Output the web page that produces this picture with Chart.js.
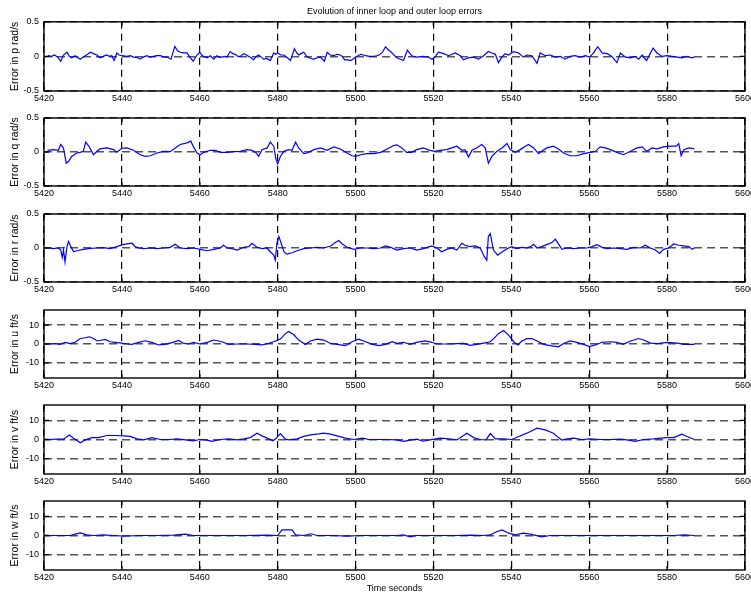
<!DOCTYPE html>
<html>
<head>
<meta charset="utf-8">
<title>Evolution of inner loop and outer loop errors</title>
<script src="https://cdn.jsdelivr.net/npm/chart.js@4.4.0/dist/chart.umd.min.js"></script>
<style>
html, body { margin: 0; padding: 0; background: #fff; }
#fig { position: relative; width: 751px; height: 597px; overflow: hidden; }
#fig canvas { position: absolute; left: 0; }
</style>
</head>
<body>
<div id="fig">
  <canvas id="chartP" width="751" height="109" style="top:0px"></canvas>
  <canvas id="chartQ" width="751" height="94" style="top:110px"></canvas>
  <canvas id="chartR" width="751" height="94" style="top:206px"></canvas>
  <canvas id="chartU" width="751" height="94" style="top:302px"></canvas>
  <canvas id="chartV" width="751" height="95" style="top:397px"></canvas>
  <canvas id="chartW" width="751" height="104" style="top:493px"></canvas>
</div>
<script>
// ==========================
// DATA
// ==========================

const timeTicks = [5420, 5440, 5460, 5480, 5500, 5520, 5540, 5560, 5580, 5600];
const rateTicks = [-0.5, 0, 0.5];
const velTicks = [-10, 0, 10];

// inner loop: body rates (rad/s)
const pTime = [
  5421, 5422, 5422.7, 5423.5, 5424.3, 5425, 5425.9, 5426.5, 5427.1, 5428,
  5429.3, 5430.3, 5431.2, 5431.9, 5432.7, 5433.6, 5434.4, 5435.2, 5436.1, 5436.8,
  5437.4, 5438, 5438.7, 5439.3, 5440, 5441.3, 5442.2, 5443, 5444, 5444.7,
  5445.5, 5446.4, 5447.2, 5448.1, 5449, 5449.9, 5450.8, 5451.6, 5452.6, 5453.6,
  5454.3, 5455, 5456, 5456.7, 5457.6, 5458.3, 5458.8, 5459.3, 5460, 5460.5,
  5461, 5461.9, 5462.7, 5463.6, 5464.4, 5465, 5465.7, 5466.4, 5467, 5467.8,
  5468.5, 5469.1, 5469.8, 5470.4, 5471.3, 5472, 5472.6, 5473.2, 5473.8, 5474.5,
  5475.1, 5475.8, 5476.4, 5477.2, 5478.1, 5479, 5479.5, 5480, 5480.8, 5481.6,
  5482.5, 5483.3, 5484.3, 5484.9, 5485.4, 5486, 5486.7, 5487.6, 5488.5, 5489.3,
  5490.2, 5491, 5492, 5492.7, 5493.5, 5494.4, 5495.2, 5496.1, 5496.6, 5497.2,
  5498, 5498.7, 5499.3, 5500, 5501.3, 5502, 5502.6, 5503.5, 5504.7, 5505.4,
  5506, 5506.8, 5507.7, 5508.3, 5509, 5509.7, 5510.6, 5512.3, 5513.3, 5514.4,
  5515.7, 5517.4, 5518.7, 5519.6, 5520.4, 5521.3, 5522.6, 5523.9, 5525.6, 5526.9,
  5527.7, 5529, 5530.3, 5531.6, 5532.9, 5534.1, 5535, 5535.9, 5536.7, 5537.6,
  5538.4, 5539.3, 5540.6, 5541.9, 5543.1, 5544, 5545.3, 5546.6, 5547.4, 5548.7,
  5550, 5551.3, 5552.6, 5553.8, 5555.1, 5556.4, 5557.7, 5559, 5560.1, 5561.1,
  5562.2, 5563.3, 5564.6, 5565.8, 5567.1, 5568, 5569.3, 5570.6, 5571.8, 5572.7,
  5573.6, 5574.7, 5575.3, 5576.4, 5577.4, 5578.7, 5580, 5581.3, 5582.6, 5583.8,
  5585.1, 5586.4, 5587
];
const pErr = [
  0.01, 0, 0.02, -0.01, -0.07, 0.02, 0.06, 0, -0.02, 0.01,
  -0.04, 0, 0.03, 0.06, 0.04, 0.02, -0.02, 0, 0.02, 0,
  0.01, -0.06, 0.05, 0.02, 0.01, 0, 0.01, -0.01, -0.02, -0.04,
  -0.01, 0.01, -0.01, 0, 0.01, 0.01, -0.01, -0.01, -0.04, 0.145,
  0.08, 0.06, 0.05, 0.05, -0.02, -0.07, -0.02, 0.02, 0.06, 0.02,
  0, -0.02, 0.01, -0.04, 0.01, -0.01, -0.01, 0, -0.01, 0.07,
  0.04, 0.03, 0, 0, 0.04, 0.02, 0, -0.02, -0.05, 0,
  0.02, -0.01, -0.04, -0.03, -0.06, 0.05, 0.03, 0.05, 0.02, 0.02,
  -0.02, -0.06, 0.11, 0.05, 0.02, 0.04, 0.06, -0.01, -0.03, -0.04,
  -0.02, -0.01, -0.07, 0.06, 0.02, 0.01, 0.03, 0.02, 0, -0.05,
  -0.05, -0.06, -0.04, -0.01, 0.03, 0.02, 0.01, 0, 0, 0.01,
  0.02, 0.05, 0.14, 0.1, 0.07, 0.03, -0.02, -0.06, 0.09, 0.01,
  -0.01, 0, -0.01, -0.04, -0.01, 0.06, 0.04, 0.01, 0.05, 0.01,
  -0.05, -0.02, -0.01, -0.04, 0.01, 0.07, 0.05, 0.03, -0.09, -0.01,
  0.04, 0.02, 0.07, 0.05, -0.01, 0.02, 0.01, -0.1, 0.05, 0.01,
  0.02, -0.01, 0, -0.04, 0, 0.01, -0.01, 0.01, -0.01, 0.05,
  0.14, 0.05, 0.04, 0, -0.09, 0.05, -0.01, -0.02, 0, -0.04,
  0.02, -0.06, 0, 0.12, 0.05, 0, 0.01, 0, -0.01, -0.02,
  0, -0.02, -0.01
];

const qTime = [
  5420.9, 5422.4, 5423.7, 5424.3, 5425, 5425.7, 5426.3, 5427.1, 5428.4, 5429.3,
  5430.1, 5430.7, 5431.4, 5432, 5432.7, 5433.6, 5434.4, 5436.1, 5437.9, 5438.7,
  5440, 5441.3, 5443, 5444.7, 5446, 5447.3, 5449, 5450.7, 5452.4, 5453.7,
  5455, 5456.7, 5457.7, 5458.4, 5459.3, 5460.1, 5461, 5462.7, 5464, 5465.3,
  5467, 5468.7, 5470.4, 5472.1, 5473.4, 5474.5, 5475.1, 5476, 5477.3, 5478.1,
  5479, 5479.5, 5480, 5480.7, 5481.6, 5482.8, 5483.7, 5484.6, 5485.4, 5486.7,
  5487.6, 5489.3, 5491, 5492.7, 5494.4, 5496.1, 5497.8, 5499.1, 5500, 5501.3,
  5503, 5504.7, 5506.4, 5508.1, 5509.8, 5510.6, 5511.9, 5513.1, 5514.4, 5515.7,
  5517.4, 5519.1, 5520.4, 5521.7, 5523.4, 5524.7, 5526, 5527.3, 5528.1, 5529,
  5529.9, 5531.1, 5532.4, 5533.3, 5534.1, 5535, 5536.3, 5537.6, 5538.9, 5539.7,
  5541, 5542.3, 5543.6, 5544.4, 5545.7, 5547, 5547.8, 5549.1, 5550.8, 5552.1,
  5553.4, 5555.1, 5556.8, 5558.6, 5560.3, 5561.6, 5562.8, 5564.1, 5565.4, 5567.1,
  5568.8, 5570.6, 5572.3, 5573.6, 5574.8, 5576.1, 5577.4, 5579.1, 5580.8, 5582.4,
  5583, 5583.6, 5584.3, 5585.6, 5587
];
const qErr = [
  0.025, 0.035, 0.025, 0.11, 0.06, -0.165, -0.14, -0.065, -0.015, -0.005,
  0.01, 0.145, 0.095, 0.035, -0.04, 0.01, 0.045, 0.06, 0.035, -0.005,
  0.055, 0.06, 0.025, -0.04, -0.065, -0.055, -0.015, 0.01, 0.005, 0.06,
  0.11, 0.135, 0.16, 0.075, -0.015, -0.04, -0.005, 0.025, 0.025, -0.005,
  -0.005, 0.005, 0.01, 0.035, 0.025, -0.015, -0.065, 0.035, 0.06, 0.145,
  0.085, -0.09, -0.175, -0.065, 0.01, 0.035, 0.025, 0.145, 0.06, -0.025,
  -0.015, 0.035, 0.06, 0.025, 0.075, 0.045, -0.015, -0.055, -0.065, -0.04,
  -0.025, -0.025, -0.005, 0.045, 0.095, 0.105, 0.06, -0.005, -0.005, 0.035,
  0.06, 0.025, 0.01, 0.025, 0.035, 0.06, 0.085, 0.025, 0.035, -0.075,
  0.025, 0.06, 0.11, 0.06, -0.165, -0.065, 0.01, 0.06, 0.125, 0.035,
  -0.005, 0.035, 0.085, 0.11, 0.06, -0.025, 0.01, 0.06, 0.085, 0.045,
  -0.015, -0.055, -0.055, -0.025, -0.005, 0.01, 0.075, 0.06, 0.035, -0.005,
  -0.04, 0.01, 0.06, 0.075, 0.01, 0.06, 0.045, 0.075, 0.085, 0.085,
  0.125, -0.055, 0.035, 0.06, 0.045
];

const rTime = [
  5420.9, 5422.4, 5423.7, 5424.3, 5424.7, 5425, 5425.4, 5425.9, 5426.3, 5426.9,
  5427.6, 5428.4, 5430.1, 5431.9, 5433.6, 5435.3, 5437, 5438.7, 5440, 5441.3,
  5442.6, 5443.4, 5444.3, 5445.6, 5447.3, 5449, 5450.7, 5452.4, 5453.7, 5455,
  5456.7, 5458.4, 5460.1, 5461.9, 5463.6, 5465.3, 5466.1, 5467, 5468.3, 5469.6,
  5471.3, 5472.6, 5473.4, 5474.7, 5476, 5477.3, 5478.1, 5479, 5479.4, 5479.8,
  5480.3, 5480.9, 5481.6, 5482.4, 5483.7, 5485, 5486.7, 5488.4, 5490.1, 5491.8,
  5493.6, 5494.8, 5495.7, 5496.6, 5497.8, 5499.6, 5501.3, 5503, 5504.7, 5506.4,
  5507.7, 5509, 5510.6, 5512.3, 5514, 5515.7, 5517.4, 5519.6, 5520.9, 5522.1,
  5523.4, 5524.7, 5526, 5527.3, 5528.1, 5529.4, 5530.7, 5532, 5533, 5533.7,
  5534.1, 5534.6, 5535.4, 5536.5, 5537.6, 5538.9, 5540.1, 5541.4, 5542.7, 5544,
  5544.9, 5545.7, 5546.6, 5547.8, 5549.1, 5550.4, 5551.3, 5552.1, 5553, 5554.3,
  5556, 5557.7, 5559.4, 5560.7, 5562, 5563.3, 5564.6, 5566.3, 5568, 5569.7,
  5571.4, 5573.1, 5574.4, 5575.7, 5577, 5578.1, 5579.1, 5580.4, 5581.7, 5583,
  5584.3, 5585.6, 5586.4, 5587
];
const rErr = [
  0, -0.01, 0, -0.03, -0.14, -0.03, -0.205, 0.02, 0.095, 0.02,
  -0.055, -0.04, -0.02, -0.005, 0, 0.005, -0.01, 0.02, 0.045, 0.06,
  0.07, 0.02, 0, -0.01, 0, -0.01, 0, 0.01, 0.055, 0,
  -0.01, 0, -0.02, -0.04, -0.02, 0, 0.04, 0, -0.01, -0.03,
  0.01, 0.02, 0.07, 0.01, -0.01, 0, -0.055, -0.105, -0.18, 0.07,
  0.17, 0.07, -0.055, -0.09, -0.07, -0.04, -0.01, 0, 0.01, 0,
  0.03, 0.08, 0.11, 0.06, 0.01, -0.02, 0, 0, -0.01, 0,
  0.03, 0.01, -0.03, -0.01, 0, -0.03, -0.01, 0.03, 0, -0.055,
  -0.02, 0, -0.03, 0.07, 0.04, 0.02, 0.03, 0, -0.12, -0.18,
  0.17, 0.21, -0.03, -0.105, -0.06, -0.01, 0.02, -0.01, 0.01, 0,
  0.02, 0.055, 0, 0.02, 0.05, 0.08, 0.13, 0.06, -0.02, 0,
  -0.01, 0, 0, 0.02, 0.05, 0.01, -0.01, 0, -0.01, -0.02,
  0.01, 0, 0.04, 0, -0.03, -0.08, -0.02, 0, 0.06, 0.04,
  0.03, 0.02, -0.02, 0
];

// outer loop: velocities (ft/s)
const uTime = [
  5420.9, 5422.9, 5424.1, 5425.4, 5426.7, 5428, 5429.3, 5430.6, 5431.7, 5432.7,
  5433.7, 5434.9, 5435.7, 5437, 5438.3, 5440, 5441.3, 5442.6, 5444.3, 5446,
  5447.7, 5449.4, 5451.1, 5452.9, 5454.6, 5455.9, 5457.1, 5458.4, 5460, 5461.9,
  5463.6, 5465.7, 5467.4, 5469.6, 5472.1, 5474.3, 5476, 5477.7, 5479, 5480.7,
  5482, 5482.8, 5484.1, 5485.4, 5487.1, 5488.4, 5490.1, 5491.8, 5493.6, 5495.3,
  5497.4, 5499.1, 5500.8, 5502.6, 5504.3, 5506, 5507.7, 5509.4, 5510.6, 5512.3,
  5514, 5515.7, 5517.9, 5519.6, 5520.9, 5522.6, 5524.3, 5526, 5527.7, 5529.4,
  5531.1, 5532.9, 5534.6, 5535.9, 5536.7, 5538, 5539.3, 5540.6, 5541.7, 5542.7,
  5544, 5545.3, 5546.6, 5548.3, 5550, 5552.1, 5553.4, 5555.1, 5556.8, 5558.6,
  5560, 5561.6, 5563.3, 5565.4, 5567.1, 5568.8, 5570.6, 5572.7, 5574, 5575.7,
  5577.4, 5580, 5582.6, 5584.3, 5587
];
const uErr = [
  0, 0.2, -0.2, 0.9, 0.2, 0.9, 2.9, 3.3, 3.8, 2.9,
  1.6, 2.1, 2.4, 1.2, 0.9, 0.5, 0, -0.2, 0.9, 1.7,
  0.9, -0.5, -0.2, 0.7, 1.9, 0.3, 0, 0.9, 0, 0.9,
  2.1, 1.2, -0.2, 0, 0, -0.2, -0.5, 0.3, 1.2, 2.6,
  5.5, 6.6, 5, 2.1, -0.3, 1.6, 2.6, 2.1, 0.3, -0.2,
  -0.9, 1.2, 2.6, 1.2, -0.2, -0.9, -0.2, 1.2, 0.3, 0.9,
  -0.2, 0.9, 1.6, 0.9, 0, 0, 0, 0.2, 0.3, -0.7,
  -0.2, 0.5, 1.2, 3.8, 5.5, 7.1, 4.7, 1.2, -0.5, 1.6,
  2.8, 2.9, 1.6, -0.2, -0.9, -1.5, 0.3, 1.6, 0.9, -0.2,
  -1.4, -0.5, 0.9, 1.2, 0.9, -0.2, 1.6, 2.9, 2.1, 0.5,
  0.2, 0.9, 0.5, -0.2, -0.2
];

const vTime = [
  5420.9, 5423.3, 5425, 5426.5, 5427.6, 5429.3, 5430.6, 5432.3, 5434, 5436.1,
  5438.3, 5440.4, 5442.1, 5443.9, 5445.6, 5447.7, 5449.9, 5452.4, 5454.1, 5456.3,
  5458.4, 5460, 5461.9, 5463.1, 5465.3, 5467.4, 5469.6, 5471.3, 5473, 5474.7,
  5476, 5477.3, 5478.8, 5479.8, 5480.7, 5482, 5482.8, 5485, 5486.7, 5488.4,
  5490.6, 5491.8, 5493.6, 5495.7, 5497.4, 5499.6, 5501.7, 5503.4, 5505.6, 5508.1,
  5510.6, 5512.3, 5514, 5515.7, 5517.4, 5519.1, 5521.7, 5523.9, 5526, 5528.6,
  5530.3, 5532, 5533.5, 5534.6, 5535.9, 5538, 5540.1, 5541.9, 5544, 5546.6,
  5548.7, 5550.8, 5552.1, 5553, 5554.3, 5556, 5558.1, 5560.3, 5562.8, 5565.4,
  5568, 5570.1, 5571.8, 5574, 5576.6, 5578.3, 5580, 5581.7, 5583.8, 5585.1,
  5587
];
const vErr = [
  0, 0.2, 0.2, 2.4, 0.7, -1.7, -0.2, 1, 1, 2.1,
  2.1, 1.9, 1.6, 0.3, -0.2, 1, 0, 0, 0.3, -0.2,
  -0.7, 0, -0.3, -1, 0, 0.3, -0.2, 0.3, 1, 3.3,
  1.9, 0.7, -0.7, 1, 3.1, 0.2, -0.2, 0.3, 1.6, 2.4,
  2.9, 3.3, 2.8, 1.6, 0.7, 0, 0.7, 0, 0, 0,
  -0.2, -1, -0.3, 0.2, -0.9, -0.2, 0.7, 0.3, -0.2, 3.3,
  1, 0, -0.2, 3.1, 0.3, 0.3, 0, 1.6, 3.3, 5.9,
  5, 3.3, 1, -0.3, 0.3, 0.7, 0, 0.3, 0, 0,
  0.2, -0.3, -1, 0, 0.3, 0.7, 1, 1, 2.8, 1.6,
  0
];

const wTime = [
  5420.9, 5424.1, 5426.7, 5428, 5429.3, 5431, 5432.7, 5435.3, 5437.9, 5440.4,
  5444.7, 5449, 5453.3, 5456.3, 5458.4, 5461.9, 5467, 5472.1, 5477.3, 5480,
  5481.1, 5483.7, 5484.6, 5486.7, 5488.6, 5490.1, 5494.4, 5497.8, 5501.3, 5504.7,
  5508.1, 5510.6, 5512.3, 5514, 5515.7, 5519.1, 5522.6, 5526, 5529.4, 5532.9,
  5534.6, 5535.9, 5537.6, 5539.3, 5541, 5543.1, 5544.9, 5547.8, 5550, 5553.4,
  5556.8, 5560.3, 5564.6, 5568.8, 5573.1, 5577.4, 5581.7, 5584.3, 5587
];
const wErr = [
  0, 0, 0, 0.7, 1.4, 0.3, 0, 0.3, 0, -0.3,
  0, 0, 0.2, 0.7, 0, 0, 0, 0, 0.2, 0,
  2.9, 2.9, 0.3, 0, 0.9, 0, 0, -0.3, 0, 0,
  0, 0, 0.3, -0.7, 0, 0, 0, 0, 0.2, 0,
  0.3, 1.7, 2.9, 1.2, 0.3, 1.2, 0.7, -0.7, 0, 0,
  0, 0, 0, 0, 0, 0, 0, 0.3, 0
];


// ==========================
// SETTING DEFAULT CHART
// ==========================

Chart.defaults.font.family = "'Liberation Sans', Arial, Helvetica, sans-serif";
Chart.defaults.font.size = 9;
Chart.defaults.color = "#000";


// closed axes box with small inward tick marks on every side
const axesBox = {
  id: "axesBox",
  afterDraw(chart) {
    const {ctx, chartArea: a, scales} = chart;
    ctx.save();
    ctx.strokeStyle = "#000";
    ctx.lineWidth = 1.4;
    ctx.setLineDash([]);
    ctx.strokeRect(a.left, a.top, a.right - a.left, a.bottom - a.top);
    ctx.beginPath();
    scales.x.ticks.forEach(t => {
      const px = scales.x.getPixelForValue(t.value);
      ctx.moveTo(px, a.bottom); ctx.lineTo(px, a.bottom - 4);
      ctx.moveTo(px, a.top); ctx.lineTo(px, a.top + 4);
    });
    scales.y.ticks.forEach(t => {
      const py = scales.y.getPixelForValue(t.value);
      ctx.moveTo(a.left, py); ctx.lineTo(a.left + 5, py);
      ctx.moveTo(a.right, py); ctx.lineTo(a.right - 5, py);
    });
    ctx.stroke();
    ctx.restore();
  }
};


function errorPanel(canvasId, times, errors, yLabel, yRange, yTicks, opt) {

  const points = times.map((t, i) => ({x: t, y: errors[i]}));

  return new Chart(document.getElementById(canvasId), {

    type: "line",

    data: {
      datasets: [{
        data: points,
        borderColor: "#0000ff",
        borderWidth: 1.2,
        pointRadius: 0,
        tension: 0,
        fill: false
      }]
    },

    options: {
      responsive: false,
      animation: false,
      events: [],
      layout: {
        autoPadding: false,
        padding: {top: opt.padTop, right: 6, bottom: 0, left: 0}
      },
      plugins: {
        legend: {display: false},
        tooltip: {enabled: false},
        title: {
          display: !!opt.title,
          text: opt.title || "",
          fullSize: false,
          font: {size: 9, weight: "normal"},
          color: "#000",
          padding: {top: 6, bottom: 5}
        }
      },
      scales: {
        x: {
          type: "linear",
          min: 5420,
          max: 5600,
          afterBuildTicks: s => { s.ticks = timeTicks.map(v => ({value: v})); },
          // fixed height, and let the end labels hang past the box
          afterFit: s => { s.height = opt.xHeight; s.paddingLeft = 0; s.paddingRight = 0; },
          grid: {color: "#000", lineWidth: 1.2, drawTicks: false},
          border: {display: false, dash: [7, 5]},
          ticks: {padding: 2, autoSkip: false, maxRotation: 0, callback: v => String(v)},
          title: {
            display: !!opt.xTitle,
            text: opt.xTitle || "",
            font: {size: 9},
            padding: {top: 0, bottom: 3}
          }
        },
        y: {
          min: yRange[0],
          max: yRange[1],
          afterBuildTicks: s => { s.ticks = yTicks.map(v => ({value: v})); },
          afterFit: s => { s.width = 44; s.paddingTop = 0; s.paddingBottom = 0; },
          grid: {color: "#555", lineWidth: 1.4, drawTicks: false},
          border: {display: false, dash: [8, 5]},
          ticks: {padding: 5, callback: v => String(v)},
          title: {
            display: true,
            text: yLabel,
            font: {size: 10.5},
            padding: {top: 9, bottom: 0}
          }
        }
      }
    },

    plugins: [axesBox]
  });
}


// ==========================
// PANELS
// ==========================

errorPanel("chartP", pTime, pErr, "Error in p rad/s", [-0.5, 0.5], rateTicks,
  {padTop: 0, xHeight: 18, title: "Evolution of inner loop and outer loop errors"});

errorPanel("chartQ", qTime, qErr, "Error in q rad/s", [-0.5, 0.5], rateTicks,
  {padTop: 8, xHeight: 18});

errorPanel("chartR", rTime, rErr, "Error in r rad/s", [-0.5, 0.5], rateTicks,
  {padTop: 8, xHeight: 18});

errorPanel("chartU", uTime, uErr, "Error in u ft/s", [-18, 18], velTicks,
  {padTop: 8, xHeight: 18});

errorPanel("chartV", vTime, vErr, "Error in v ft/s", [-18, 18], velTicks,
  {padTop: 8, xHeight: 18});

errorPanel("chartW", wTime, wErr, "Error in w ft/s", [-18, 18], velTicks,
  {padTop: 8, xHeight: 27, xTitle: "Time seconds"});
</script>
</body>
</html>
